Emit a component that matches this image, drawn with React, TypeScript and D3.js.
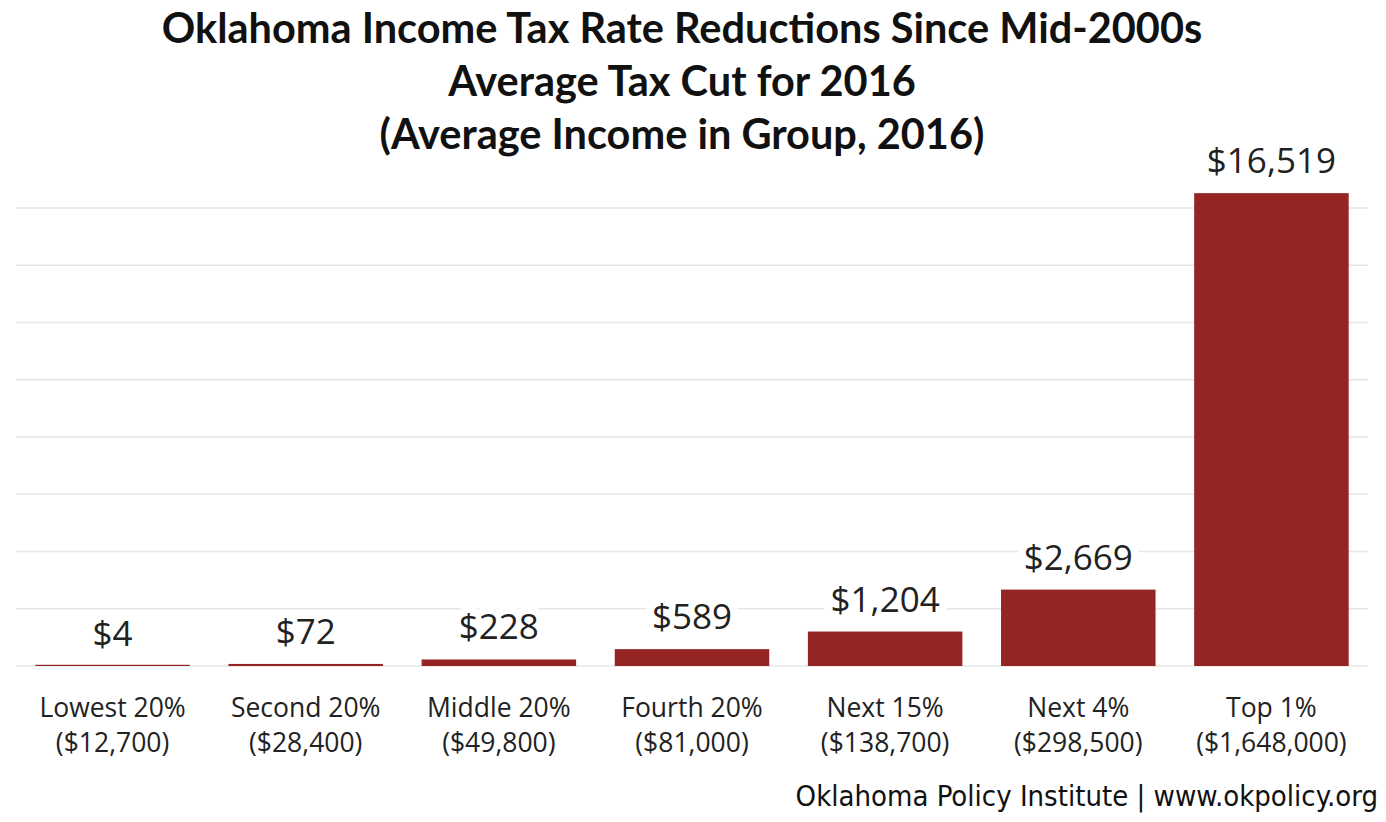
import React from "react";
import * as d3 from "d3";

const titleLines = [
  "Oklahoma Income Tax Rate Reductions Since Mid-2000s",
  "Average Tax Cut for 2016",
  "(Average Income in Group, 2016)",
];
const groups = ["Lowest 20%", "Second 20%", "Middle 20%", "Fourth 20%", "Next 15%", "Next 4%", "Top 1%"];
const incomes = ["($12,700)", "($28,400)", "($49,800)", "($81,000)", "($138,700)", "($298,500)", "($1,648,000)"];
const taxCuts = [4, 72, 228, 589, 1204, 2669, 16519];
const gridTicks = [0, 2000, 4000, 6000, 8000, 10000, 12000, 14000, 16000];
const footer = "Oklahoma Policy Institute | www.okpolicy.org";

const W = 1386;
const H = 822;

export default function App() {
  const x = d3.scaleBand<string>().domain(groups).range([16, 1368]).paddingInner(0.2).paddingOuter(0.1);
  const y = d3.scaleLinear().domain([0, 16000]).range([666, 208]);
  const fmt = d3.format("$,");
  const barColor = "#952525";
  const font = "'Open Sans', 'Noto Sans', sans-serif";

  return (
    <svg width={W} height={H} style={{ position: "absolute", left: 0, top: 0, background: "#fff" }}>
      <rect x={0} y={0} width={W} height={H} fill="#fff" />
      {gridTicks.map((t) => (
        <line key={t} x1={16} x2={1368} y1={y(t)} y2={y(t)} stroke="#e6e6e6" strokeWidth={1.5} />
      ))}
      {titleLines.map((t, i) => (
        <text
          key={i}
          x={682}
          y={43 + i * 53}
          textAnchor="middle"
          fontFamily="Lato, 'Open Sans', sans-serif"
          fontWeight={700}
          fontSize={41.5}
          fill="#111"
        >
          {t}
        </text>
      ))}
      {taxCuts.map((v, i) => {
        const top = y(v);
        const h = Math.max(y(0) - top, 1.2);
        return (
          <rect key={i} x={x(groups[i])} y={y(0) - h} width={x.bandwidth()} height={h} fill={barColor} />
        );
      })}
      {taxCuts.map((v, i) => (
        <text
          key={i}
          x={(x(groups[i]) as number) + x.bandwidth() / 2}
          y={y(v) - 20}
          textAnchor="middle"
          fontFamily={font}
          fontSize={35}
          fill="#222"
          stroke="#fff"
          strokeWidth={16}
          paintOrder="stroke"
          strokeLinejoin="round"
        >
          {fmt(v)}
        </text>
      ))}
      {groups.map((g, i) => {
        const cx = (x(g) as number) + x.bandwidth() / 2;
        return (
          <g key={g}>
            <text x={cx} y={717} textAnchor="middle" fontFamily={font} fontSize={26.5} fill="#222">
              {g}
            </text>
            <text x={cx} y={752} textAnchor="middle" fontFamily={font} fontSize={26.5} fill="#222">
              {incomes[i]}
            </text>
          </g>
        );
      })}
      <text
        x={1378}
        y={806}
        textAnchor="end"
        fontFamily="'DejaVu Sans Condensed', 'DejaVu Sans', sans-serif"
        fontSize={29}
        fill="#111"
      >
        {footer}
      </text>
    </svg>
  );
}
